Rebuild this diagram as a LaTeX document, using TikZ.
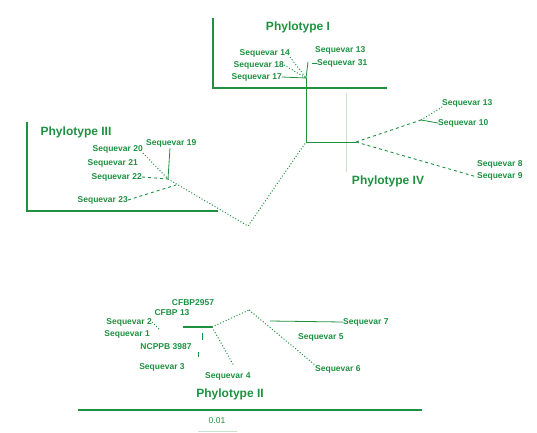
\documentclass[tikz,border=0pt]{standalone}
\usepackage{fontspec}
\setmainfont{Liberation Sans}
\definecolor{tg}{RGB}{30,145,65}
\definecolor{tgl}{RGB}{200,225,205}
\begin{document}
\begin{tikzpicture}[x=1pt,y=-1pt,
  sq/.style={inner sep=0pt,text=tg,font=\fontsize{8.5}{9}\selectfont\bfseries},
  ph/.style={inner sep=0pt,text=tg,font=\fontsize{12}{14}\selectfont\bfseries},
  br/.style={draw=tg,line width=1.7pt},
  br2/.style={draw=tg,line width=1.3pt},
  tl/.style={draw=tg,line width=0.8pt},
  dl/.style={draw=tg,line width=1pt,dotted},
  dsh/.style={draw=tg,line width=0.9pt,dash pattern=on 3pt off 3pt},
  fl/.style={draw=tgl,line width=0.6pt}]
\useasboundingbox (0,0) rectangle (537,432);
% ---------- Phylotype I ----------
\coordinate (bIa) at (213,18);
\coordinate (bIb) at (213,88);
\coordinate (bIc) at (387,88);
\draw[br] (bIa) -- (bIb) -- (bIc);
\node[ph] (pI) at (298,27) {Phylotype I};
\node[sq,anchor=east] (s14) at (290,53) {Sequevar 14};
\node[sq,anchor=east] (s18) at (284,65) {Sequevar 18};
\node[sq,anchor=east] (s17) at (282,77) {Sequevar 17};
\node[sq,anchor=west] (s13) at (315,50) {Sequevar 13};
\node[sq,anchor=west] (s31) at (317,63) {Sequevar 31};
\coordinate (nI) at (306,78);
\coordinate (nIt) at (308,62);
\draw[dl] (s14.south east) -- (nI);
\draw[dl] (s18.east) -- (nI);
\draw[tl] (s17.east) -- (nI);
\draw[tl] (nIt) -- (nI);
\draw[tl] (s31.west) -- ++(-5,0);
% ---------- central ----------
\coordinate (jc) at (306,142);
\coordinate (vb) at (248,226);
\draw[tl] (nI) -- (jc);
\coordinate (fa) at (346,93);
\coordinate (fb) at (346,172);
\draw[fl] (fa) -- (fb);
% ---------- Phylotype IV ----------
\node[ph] (pIV) at (388,181) {Phylotype IV};
\node[sq,anchor=west] (sA) at (442,103) {Sequevar 13};
\node[sq,anchor=west] (sB) at (438,123) {Sequevar 10};
\node[sq,anchor=west] (sC) at (477,164) {Sequevar 8};
\node[sq,anchor=west] (sD) at (477,176) {Sequevar 9};
\coordinate (nIV) at (356,142);
\coordinate (nIVa) at (421,120);
\draw[tl] (jc) -- (nIV);
\draw[dsh] (nIV) -- (nIVa);
\draw[tl] (nIVa) -- (sB.west);
\draw[dl] (nIVa) -- (sA.south west);
\draw[dsh] (nIV) -- ([yshift=-1pt]sD.west);
% ---------- Phylotype III ----------
\coordinate (bIIIa) at (27,122);
\coordinate (bIIIb) at (27,211);
\coordinate (bIIIc) at (218,211);
\draw[br] (bIIIa) -- (bIIIb) -- (bIIIc);
\node[ph] (pIII) at (76,132) {Phylotype III};
\node[sq,anchor=east] (s20) at (143,149) {Sequevar 20};
\node[sq,anchor=east] (s21) at (138,163) {Sequevar 21};
\node[sq,anchor=east] (s22) at (142,177) {Sequevar 22};
\node[sq,anchor=west] (s19) at (146,143) {Sequevar 19};
\node[sq,anchor=east] (s23) at (128,200) {Sequevar 23};
\coordinate (nIII) at (168,179);
\coordinate (nIIIt) at (170,148);
\draw[tl] (nIIIt) -- (nIII);
\draw[dl] (s20.south east) -- (nIII);
\draw[dsh] (s22.east) -- (nIII);
\draw[dsh] (s23.east) -- (176,185);
\draw[dl] (nIII) -- (vb) -- (jc);
% ---------- Phylotype II ----------
\node[sq] (cf1) at (193,303) {CFBP2957};
\node[sq] (cf2) at (172,313) {CFBP 13};
\node[sq,anchor=east] (s2) at (152,322) {Sequevar 2};
\node[sq,anchor=east] (s1) at (150,334) {Sequevar 1};
\node[sq] (nc) at (166,347) {NCPPB 3987};
\node[sq] (s3) at (162,367) {Sequevar 3};
\node[sq,anchor=west] (s4) at (205,376) {Sequevar 4};
\node[sq,anchor=west] (s7) at (343,322) {Sequevar 7};
\node[sq,anchor=west] (s5) at (298,337) {Sequevar 5};
\node[sq,anchor=west] (s6) at (315,369) {Sequevar 6};
\coordinate (nIIa) at (183,327);
\coordinate (nII) at (212,327);
\coordinate (nIIb) at (249,310);
\coordinate (nIIc) at (270,321);
\coordinate (nIId) at (234,366);
\draw[draw=tg,line width=1.4pt] (nIIa) -- (nII);
\draw[dl] (nII) -- (nIIb);
\draw[dl] (nIIb) -- (s6.north west);
\draw[tl] (nIIc) -- (s7.west);
\draw[dl] (nII) -- (nIId);
\draw[dl] (s2.east) -- (160,330);
\draw[tl] (202,333) -- (202,340);
\draw[tl] (198,352) -- (198,357);
\node[ph] (pII) at (230,394) {Phylotype II};
\coordinate (sca) at (78,410);
\coordinate (scb) at (422,410);
\draw[br2] (sca) -- (scb);
\node[sq,font=\fontsize{8.5}{9}\selectfont] (sc) at (217,421) {0.01};
\coordinate (sla) at (198,431);
\coordinate (slb) at (237,431);
\draw[fl] (sla) -- (slb);
\end{tikzpicture}
\end{document}
